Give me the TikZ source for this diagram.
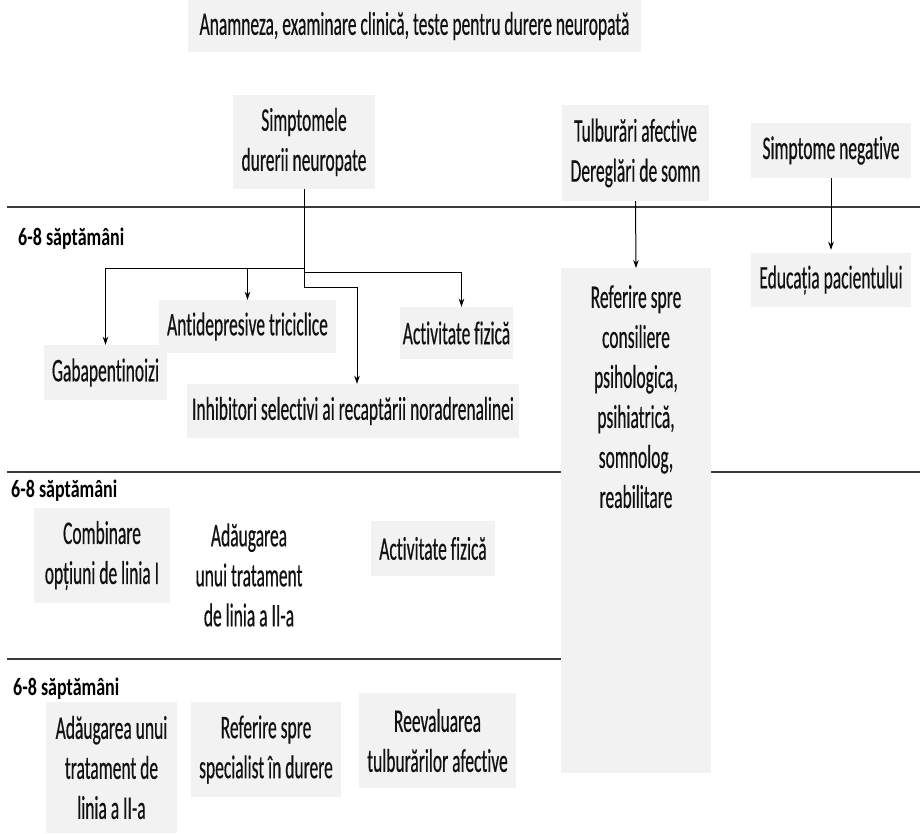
\documentclass[tikz,border=0pt]{standalone}
\usepackage{fontspec}
\setmainfont{Carlito}[FakeStretch=0.53, FakeBold=0.4, Ligatures={NoCommon}]
\newfontfamily\labfont{Carlito}[FakeStretch=0.72, Ligatures={NoCommon}]
\usetikzlibrary{arrows.meta}
\definecolor{boxgray}{HTML}{F2F2F2}
\definecolor{txtcol}{HTML}{111111}
\definecolor{linecol}{HTML}{3A3A3A}
\newcommand\mainsz{\fontsize{33}{40}\selectfont}
\newcommand\labsz{\labfont\bfseries\fontsize{25}{30}\selectfont}
\tikzset{
  box/.style={fill=boxgray, inner sep=0pt, align=center, font=\mainsz, text=txtcol},
  txt/.style={inner sep=0pt, align=center, font=\mainsz, text=txtcol},
  lab/.style={inner sep=0pt, anchor=west, font=\labsz, text=black},
  sepline/.style={draw=linecol, line width=1.6pt},
  arr/.style={draw=black, line width=1pt, -{Stealth[length=8pt,width=5.5pt]}}
}
\begin{document}
\begin{tikzpicture}[x=1pt,y=-1pt]
\useasboundingbox (0,0) rectangle (922,834);
% separator lines
\draw[sepline] (7,207) -- (920,207);
\draw[sepline] (7,472) -- (920,472);
\draw[sepline] (7,659) -- (600,659);
% top
\node[box, minimum width=453pt, minimum height=52pt] (top) at (414.5,26) {Anamneza, examinare clinică, teste pentru durere neuropată};
% row of symptoms
\node[box, minimum width=142pt, minimum height=94pt] (simpt) at (304,142) {Simptomele\\durerii neuropate};
\node[box, minimum width=147pt, minimum height=96pt] (tulb) at (635.5,153) {Tulburări afective\\Dereglări de somn};
\node[box, minimum width=160pt, minimum height=55pt] (neg) at (831,150.5) {Simptome negative};
\node[box, minimum width=160pt, minimum height=54pt] (edu) at (831,280) {Educația pacientului};
\node[box, minimum width=150pt, minimum height=505pt, anchor=north] (ref) at (636,268) {};
\node[txt, anchor=north] (reftxt) at (636,285) {Referire spre\\consiliere\\psihologica,\\psihiatrică,\\somnolog,\\reabilitare};
% labels
\node[lab] (lab1) at (18,239) {6-8 săptămâni};
\node[lab] (lab2) at (11,491) {6-8 săptămâni};
\node[lab] (lab3) at (13,689) {6-8 săptămâni};
% first line treatments
\node[box, minimum width=123pt, minimum height=55pt] (gaba) at (105.5,372.5) {Gabapentinoizi};
\node[box, minimum width=177pt, minimum height=53pt] (anti) at (247.5,326.5) {Antidepresive triciclice};
\node[box, minimum width=113pt, minimum height=52pt] (act1) at (456.5,333) {Activitate fizică};
\node[box, minimum width=332pt, minimum height=54pt] (inh) at (353,411) {Inhibitori selectivi ai recaptării noradrenalinei};
% second block
\node[box, minimum width=136pt, minimum height=95pt] (comb) at (102,555.5) {Combinare\\opțiuni de linia I};
\node[txt] (adg) at (249,575) {Adăugarea\\unui tratament\\de linia a II-a};
\node[box, minimum width=124pt, minimum height=55pt] (act2) at (433,548.5) {Activitate fizică};
% third block
\node[box, minimum width=131pt, minimum height=131pt] (adu) at (111.5,767.5) {Adăugarea unui\\tratament de\\linia a II-a};
\node[box, minimum width=150pt, minimum height=95pt] (spec) at (266,749.5) {Referire spre\\specialist în durere};
\node[box, minimum width=157pt, minimum height=95pt] (reev) at (437.5,740.5) {Reevaluarea\\tulburărilor afective};
% connectors
\coordinate (split) at ([yshift=-79pt]simpt.south);
\draw[arr] (simpt.south) -- (split) -| (gaba.north);
\draw[arr] (split) -| (anti.north);
\draw[arr] ([yshift=-4pt]split) -| ([xshift=5pt]act1.north);
\draw[arr] (split) -- ++(0,19) -| ([xshift=4pt]inh.north);
\draw[arr] (tulb.south) -- (ref.north);
\draw[arr] (neg.south) -- ([yshift=3pt]edu.north);
\end{tikzpicture}
\end{document}
